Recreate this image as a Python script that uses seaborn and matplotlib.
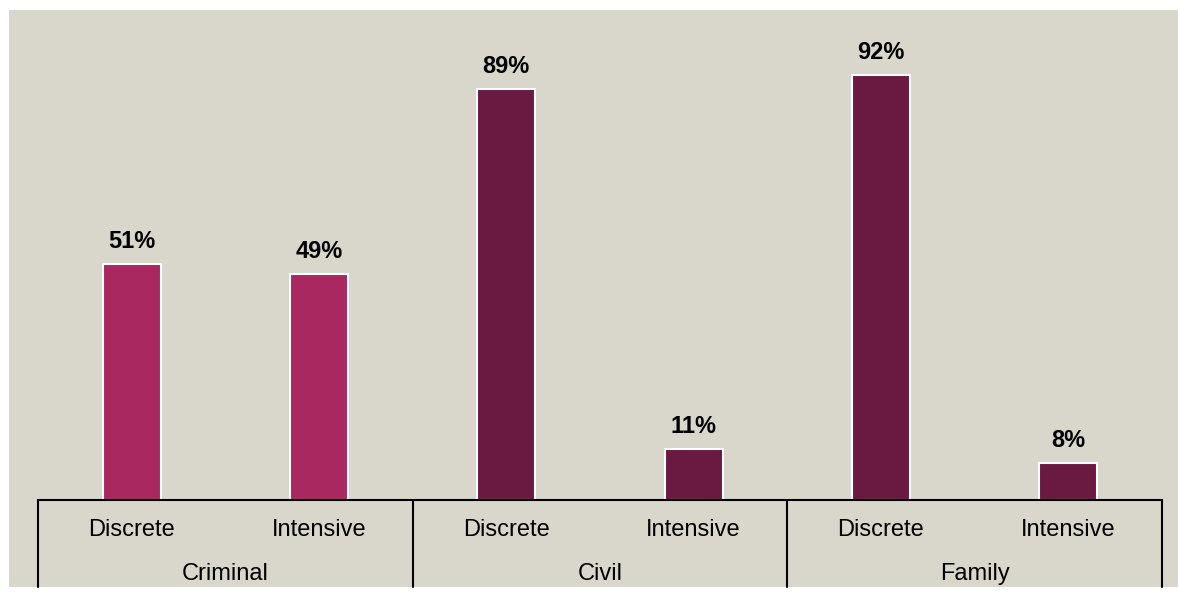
import matplotlib
matplotlib.use("Agg")
import matplotlib.pyplot as plt
import matplotlib.transforms as mtransforms
from matplotlib.patches import Rectangle
import seaborn as sns
import pandas as pd

groups = ["Criminal", "Criminal", "Civil", "Civil", "Family", "Family"]
types = ["Discrete", "Intensive", "Discrete", "Intensive", "Discrete", "Intensive"]
values = [51, 49, 89, 11, 92, 8]
group_names = ["Criminal", "Civil", "Family"]
group_colors = {"Criminal": "#A8285F", "Civil": "#6A1A41", "Family": "#6A1A41"}

sns.set_theme(style="white")
plt.rcParams['font.family'] = ['Liberation Sans', 'DejaVu Sans']

df = pd.DataFrame({"group": groups, "type": types, "value": values})
df["key"] = [f"{g}-{t}" for g, t in zip(groups, types)]
palette = {k: group_colors[g] for k, g in zip(df["key"], df["group"])}

W, H = 1178, 592
fig = plt.figure(figsize=(W / 100, H / 100), dpi=100)
fig.patch.set_facecolor("white")
bg = "#D9D7CB"
fig.patches.append(Rectangle((9 / W, (H - 587) / H), (W - 9) / W, (587 - 10) / H,
                             transform=fig.transFigure, facecolor=bg, edgecolor="none", zorder=-10))

ax = fig.add_axes([38 / W, (H - 500) / H, 1124 / W, 490 / H])
ax.set_facecolor("none")
ax.set_zorder(5)

sns.barplot(data=df, x="key", y="value", hue="key", palette=palette, order=list(df["key"]),
            width=0.31, edgecolor="white", linewidth=1.5, legend=False, ax=ax, saturation=1)

ax.set_xlim(-0.5, len(values) - 0.5)
ax.set_ylim(0, 106.1)
ax.set_xlabel("")
ax.set_ylabel("")
ax.set_yticks([])
ax.set_xticks([])
for s in ["top", "right", "left"]:
    ax.spines[s].set_visible(False)
ax.spines["bottom"].set_color("black")
ax.spines["bottom"].set_linewidth(1.5)

for i, v in enumerate(values):
    ax.annotate(f"{v}%", (i, v), xytext=(0, 8), textcoords="offset points",
                ha="center", va="bottom", fontsize=17, fontweight="bold", color="black")

trans = mtransforms.blended_transform_factory(ax.transData, ax.transAxes)
for i, t in enumerate(types):
    ax.text(i, -30 / 490, t, transform=trans, ha="center", va="center", fontsize=17, color="black")
for gi, g in enumerate(group_names):
    ax.text(gi * 2 + 0.5, -74 / 490, g, transform=trans, ha="center", va="center", fontsize=17, color="black")
for xb in [-0.5, 1.5, 3.5, 5.5]:
    ax.plot([xb, xb], [0, -87 / 490], transform=trans, color="black", linewidth=1.5, clip_on=False)

fig.savefig("out.png", dpi=100, facecolor=fig.get_facecolor())
